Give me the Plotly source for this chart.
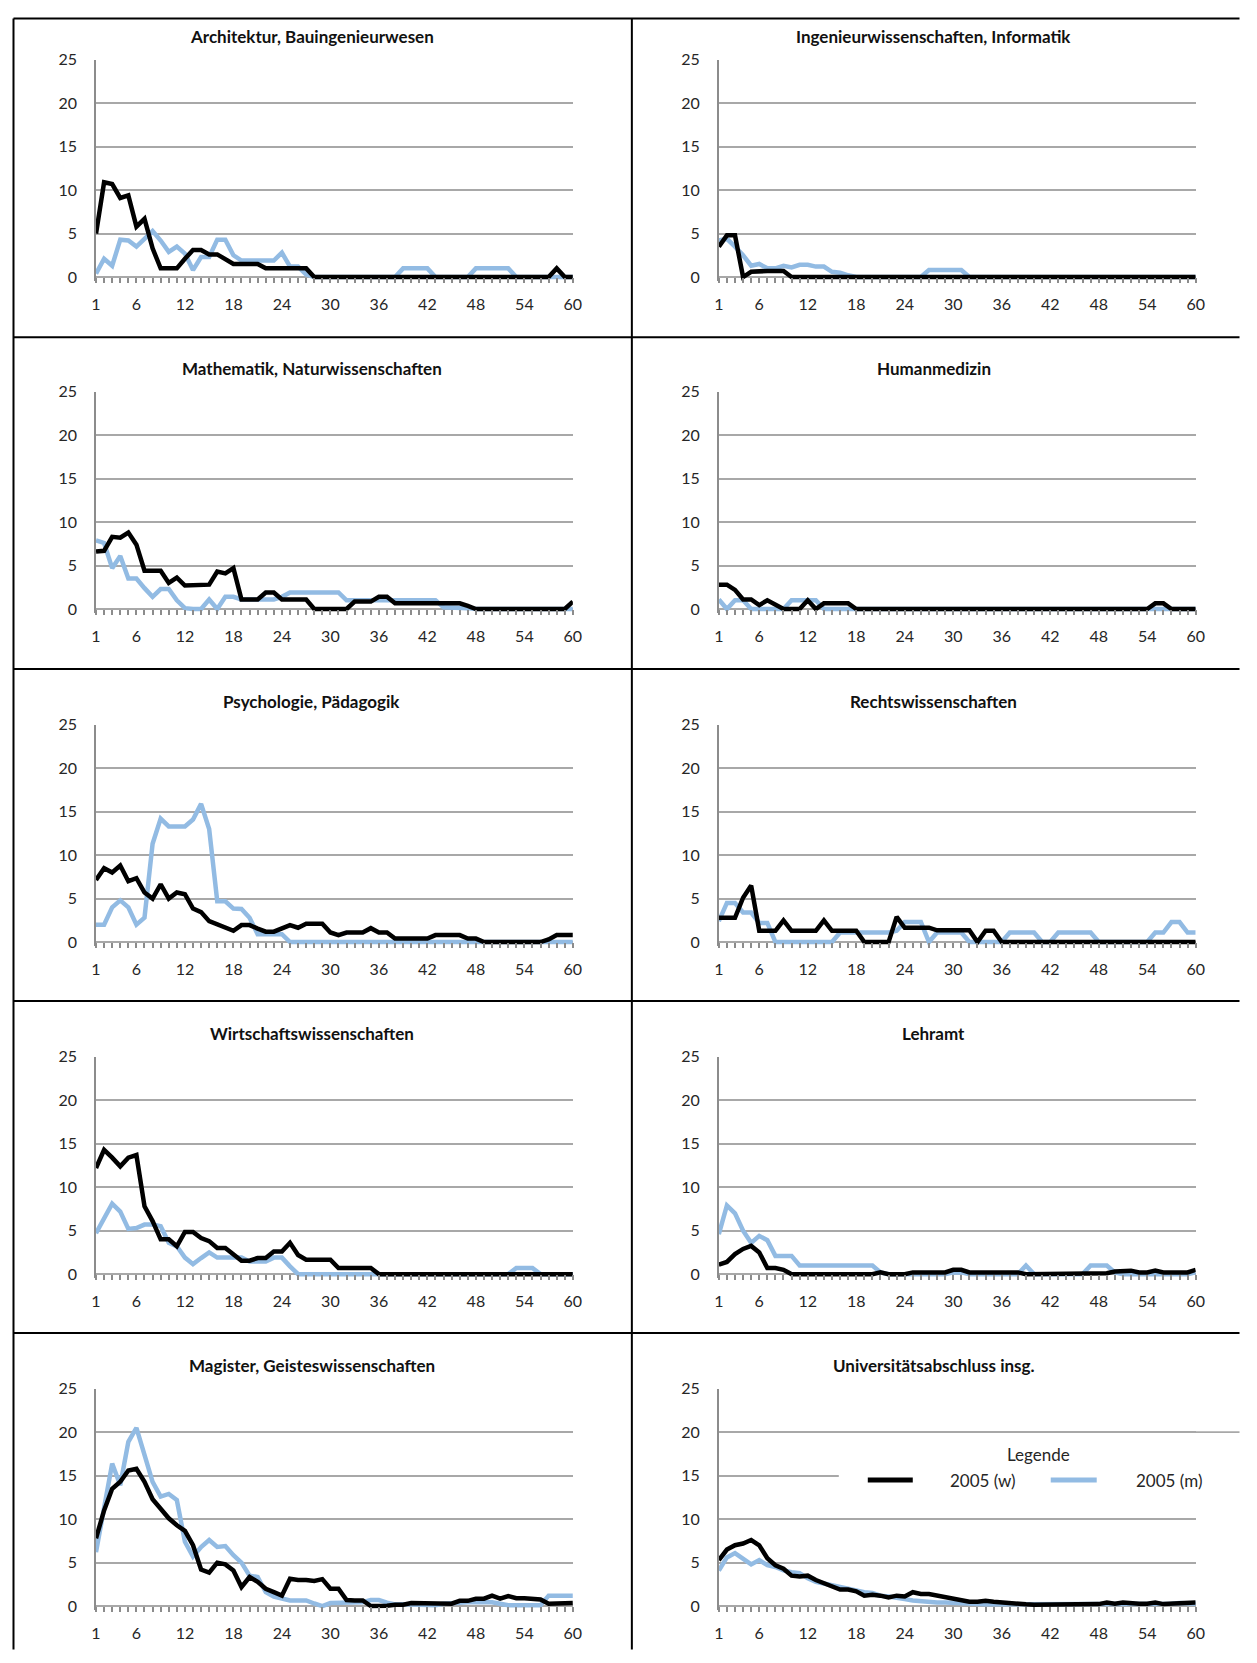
import plotly.graph_objects as go

# ---------------- data ----------------
x_vals = list(range(1, 61))
x_tick_vals = [1, 6, 12, 18, 24, 30, 36, 42, 48, 54, 60]
x_tick_text = [str(v) for v in x_tick_vals]
y_tick_vals = [0, 5, 10, 15, 20, 25]
series_names = ["2005 (w)", "2005 (m)"]

titles = [
    "Architektur, Bauingenieurwesen", "Ingenieurwissenschaften, Informatik",
    "Mathematik, Naturwissenschaften", "Humanmedizin",
    "Psychologie, Pädagogik", "Rechtswissenschaften",
    "Wirtschaftswissenschaften", "Lehramt",
    "Magister, Geisteswissenschaften", "Universitätsabschluss insg.",
]

arch_w = [5.0, 10.9, 10.7, 9.1, 9.4, 5.8, 6.7, 3.3, 1.0, 1.0,
          1.0, 2.1, 3.1, 3.1, 2.6, 2.6, 2.1, 1.5, 1.5, 1.5,
          1.5, 1.0, 1.0, 1.0, 1.0, 1.0, 1.0, 0, 0, 0,
          0, 0, 0, 0, 0, 0, 0, 0, 0, 0,
          0, 0, 0, 0, 0, 0, 0, 0, 0, 0,
          0, 0, 0, 0, 0, 0, 0, 1.0, 0, 0]
arch_m = [0.4, 2.1, 1.3, 4.3, 4.2, 3.5, 4.4, 5.3, 4.2, 2.9,
          3.5, 2.7, 0.8, 2.3, 2.3, 4.3, 4.3, 2.5, 1.9, 1.9,
          1.9, 1.9, 1.9, 2.8, 1.2, 1.2, 0.3, 0, 0, 0,
          0, 0, 0, 0, 0, 0, 0, 0, 1.0, 1.0,
          1.0, 1.0, 0, 0, 0, 0, 0, 1.0, 1.0, 1.0,
          1.0, 1.0, 0, 0, 0, 0, 0, 0, 0, 0]

ing_w = [3.5, 4.8, 4.8, 0, 0.6, 0.7, 0.7, 0.7, 0.7, 0,
         0, 0, 0, 0, 0, 0, 0, 0, 0, 0,
         0, 0, 0, 0, 0, 0, 0, 0, 0, 0,
         0, 0, 0, 0, 0, 0, 0, 0, 0, 0,
         0, 0, 0, 0, 0, 0, 0, 0, 0, 0,
         0, 0, 0, 0, 0, 0, 0, 0, 0, 0]
ing_m = [4.2, 4.4, 3.5, 2.5, 1.3, 1.5, 1.0, 1.0, 1.3, 1.1,
         1.4, 1.4, 1.2, 1.2, 0.6, 0.5, 0.2, 0, 0, 0,
         0, 0, 0.1, 0, 0, 0, 0.8, 0.8, 0.8, 0.8,
         0.8, 0, 0, 0, 0, 0, 0, 0, 0, 0,
         0, 0, 0, 0, 0, 0, 0, 0, 0, 0,
         0, 0, 0, 0, 0, 0, 0, 0, 0, 0]

math_w = [6.6, 6.7, 8.3, 8.2, 8.8, 7.4, 4.4, 4.4, 4.4, 3.0,
          3.6, 2.7, 2.7, 2.8, 2.8, 4.3, 4.1, 4.7, 1.1, 1.1,
          1.1, 1.9, 1.9, 1.1, 1.1, 1.1, 1.1, 0, 0, 0,
          0, 0, 0.85, 0.85, 0.85, 1.4, 1.4, 0.65, 0.65, 0.65,
          0.65, 0.65, 0.65, 0.65, 0.65, 0.65, 0.35, 0, 0, 0,
          0, 0, 0, 0, 0, 0, 0, 0, 0, 0.85]
math_m = [7.9, 7.6, 4.7, 6.1, 3.5, 3.5, 2.4, 1.4, 2.3, 2.3,
          1.0, 0.1, 0, 0, 1.1, 0, 1.4, 1.4, 1.1, 1.1,
          1.1, 1.1, 1.1, 1.4, 1.9, 1.9, 1.9, 1.9, 1.9, 1.9,
          1.9, 1.0, 1.0, 1.0, 1.0, 1.0, 1.0, 1.0, 1.0, 1.0,
          1.0, 1.0, 1.0, 0.2, 0.2, 0.2, 0.1, 0, 0, 0,
          0, 0, 0, 0, 0, 0, 0, 0, 0, 0]

med_w = [2.8, 2.8, 2.2, 1.1, 1.1, 0.45, 1.0, 0.45, 0, 0,
         0, 1.0, 0, 0.65, 0.65, 0.65, 0.65, 0, 0, 0,
         0, 0, 0, 0, 0, 0, 0, 0, 0, 0,
         0, 0, 0, 0, 0, 0, 0, 0, 0, 0,
         0, 0, 0, 0, 0, 0, 0, 0, 0, 0,
         0, 0, 0, 0, 0.65, 0.65, 0, 0, 0, 0]
med_m = [1.1, 0, 1.0, 1.0, 0, 0, 0, 0, 0, 1.0,
         1.0, 1.0, 1.0, 0, 0, 0, 0, 0, 0, 0,
         0, 0, 0, 0, 0, 0, 0, 0, 0, 0,
         0, 0, 0, 0, 0, 0, 0, 0, 0, 0,
         0, 0, 0, 0, 0, 0, 0, 0, 0, 0,
         0, 0, 0, 0, 0, 0, 0, 0, 0, 0]

psy_w = [7.15, 8.5, 8.0, 8.8, 7.0, 7.35, 5.7, 5.0, 6.65, 5.0,
         5.7, 5.5, 3.85, 3.45, 2.4, 2.0, 1.65, 1.3, 1.95, 1.95,
         1.55, 1.2, 1.2, 1.55, 1.95, 1.65, 2.1, 2.1, 2.1, 1.1,
         0.8, 1.1, 1.1, 1.1, 1.6, 1.1, 1.1, 0.4, 0.4, 0.4,
         0.4, 0.4, 0.8, 0.8, 0.8, 0.8, 0.4, 0.4, 0, 0,
         0, 0, 0, 0, 0, 0, 0.3, 0.8, 0.8, 0.8]
psy_m = [2.0, 2.0, 4.0, 4.8, 4.0, 2.0, 2.8, 11.3, 14.2, 13.3,
         13.3, 13.3, 14.1, 15.9, 13.0, 4.7, 4.7, 3.85, 3.8, 2.8,
         0.9, 0.9, 0.9, 0.9, 0, 0, 0, 0, 0, 0,
         0, 0, 0, 0, 0, 0, 0, 0, 0, 0,
         0, 0, 0, 0, 0, 0, 0, 0, 0, 0,
         0, 0, 0, 0, 0, 0, 0, 0, 0, 0]

law_w = [2.8, 2.8, 2.8, 5.1, 6.5, 1.3, 1.3, 1.3, 2.5, 1.3,
         1.3, 1.3, 1.3, 2.5, 1.3, 1.3, 1.3, 1.3, 0, 0,
         0, 0, 2.9, 1.65, 1.65, 1.65, 1.65, 1.35, 1.35, 1.35,
         1.35, 1.35, 0, 1.3, 1.3, 0, 0, 0, 0, 0,
         0, 0, 0, 0, 0, 0, 0, 0, 0, 0,
         0, 0, 0, 0, 0, 0, 0, 0, 0, 0]
law_m = [2.4, 4.5, 4.5, 3.4, 3.4, 2.2, 2.2, 0, 0, 0,
         0, 0, 0, 0, 0, 1.1, 1.1, 1.1, 1.1, 1.1,
         1.1, 1.1, 1.3, 2.3, 2.3, 2.3, 0, 1.1, 1.1, 1.1,
         1.1, 0, 0, 0, 0, 0, 1.1, 1.1, 1.1, 1.1,
         0, 0, 1.1, 1.1, 1.1, 1.1, 1.1, 0, 0, 0,
         0, 0, 0, 0, 1.1, 1.1, 2.3, 2.3, 1.1, 1.1]

econ_w = [12.2, 14.3, 13.4, 12.4, 13.4, 13.7, 7.8, 6.1, 4.0, 4.0,
          3.2, 4.85, 4.85, 4.15, 3.8, 3.0, 3.0, 2.2, 1.55, 1.55,
          1.85, 1.85, 2.6, 2.6, 3.6, 2.2, 1.65, 1.65, 1.65, 1.65,
          0.7, 0.7, 0.7, 0.7, 0.7, 0, 0, 0, 0, 0,
          0, 0, 0, 0, 0, 0, 0, 0, 0, 0,
          0, 0, 0, 0, 0, 0, 0, 0, 0, 0]
econ_m = [4.7, 6.5, 8.1, 7.2, 5.2, 5.3, 5.7, 5.7, 5.5, 3.6,
          3.2, 1.9, 1.15, 1.85, 2.5, 1.9, 1.9, 1.9, 1.9, 1.45,
          1.45, 1.45, 1.9, 1.9, 0.9, 0, 0, 0, 0, 0,
          0, 0, 0, 0, 0, 0, 0, 0, 0, 0,
          0, 0, 0, 0, 0, 0, 0, 0, 0, 0,
          0, 0, 0.7, 0.7, 0.7, 0, 0, 0, 0, 0]

teach_w = [1.1, 1.4, 2.3, 2.9, 3.25, 2.5, 0.7, 0.7, 0.5, 0,
           0, 0, 0, 0, 0, 0, 0, 0, 0, 0,
           0.2, 0, 0, 0, 0.2, 0.2, 0.2, 0.2, 0.2, 0.5,
           0.5, 0.2, 0.2, 0.2, 0.2, 0.2, 0.2, 0.2, 0, 0,
           0, 0, 0, 0, 0, 0, 0, 0, 0.1, 0.3,
           0.4, 0.4, 0.2, 0.2, 0.4, 0.2, 0.2, 0.2, 0.2, 0.5]
teach_m = [4.6, 7.9, 7.0, 5.0, 3.6, 4.4, 3.9, 2.1, 2.1, 2.1,
           1.0, 1.0, 1.0, 1.0, 1.0, 1.0, 1.0, 1.0, 1.0, 1.0,
           0.2, 0, 0, 0, 0, 0, 0, 0, 0, 0.2,
           0.2, 0, 0, 0, 0, 0, 0, 0, 1.0, 0,
           0, 0, 0, 0, 0, 0, 1.0, 1.0, 1.0, 0.2,
           0, 0, 0, 0, 0, 0, 0, 0, 0, 0.2]

mag_w = [7.8, 11.0, 13.5, 14.3, 15.6, 15.8, 14.3, 12.3, 11.2, 10.1,
         9.3, 8.65, 7.0, 4.2, 3.85, 5.0, 4.8, 4.1, 2.2, 3.35,
         2.8, 2.0, 1.6, 1.2, 3.15, 3.0, 3.0, 2.9, 3.1, 2.0,
         2.0, 0.7, 0.65, 0.65, 0, 0, 0.05, 0.15, 0.15, 0.35,
         0.35, 0.35, 0.35, 0.27, 0.27, 0.6, 0.6, 0.85, 0.85, 1.2,
         0.85, 1.15, 0.9, 0.9, 0.77, 0.77, 0.27, 0.27, 0.27, 0.35]
mag_m = [6.2, 11.0, 16.4, 13.9, 18.9, 20.5, 17.3, 14.3, 12.6, 12.9,
         12.2, 7.4, 5.7, 6.8, 7.6, 6.8, 6.9, 5.85, 5.0, 3.5,
         3.35, 1.6, 1.1, 0.85, 0.65, 0.65, 0.65, 0.3, 0, 0.35,
         0.35, 0.35, 0.35, 0.45, 0.7, 0.7, 0.4, 0.2, 0.2, 0.2,
         0.2, 0.2, 0.1, 0.27, 0.35, 0.45, 0.45, 0.45, 0.45, 0.45,
         0.27, 0.1, 0.1, 0.1, 0.1, 0.1, 1.2, 1.2, 1.2, 1.2]

univ_w = [5.3, 6.5, 7.0, 7.2, 7.6, 7.0, 5.5, 4.7, 4.3, 3.5,
          3.4, 3.5, 3.0, 2.6, 2.3, 1.9, 1.9, 1.7, 1.2, 1.3,
          1.2, 1.0, 1.2, 1.1, 1.6, 1.4, 1.4, 1.2, 1.1, 0.9,
          0.7, 0.5, 0.5, 0.6, 0.5, 0.4, 0.35, 0.27, 0.2, 0.15,
          0.15, 0.15, 0.15, 0.15, 0.2, 0.23, 0.23, 0.23, 0.4, 0.27,
          0.4, 0.27, 0.27, 0.27, 0.4, 0.23, 0.27, 0.27, 0.27, 0.4]
univ_m = [4.1, 5.6, 6.1, 5.5, 4.8, 5.3, 4.7, 4.5, 4.1, 3.9,
          3.8, 3.2, 2.8, 2.6, 2.4, 2.1, 2.0, 1.8, 1.6, 1.5,
          1.2, 1.1, 1.0, 0.8, 0.65, 0.55, 0.45, 0.42, 0.4, 0.35,
          0.27, 0.2, 0.2, 0.2, 0.2, 0.2, 0.2, 0.27, 0.15, 0.15,
          0.15, 0.15, 0.15, 0.15, 0.15, 0.15, 0.15, 0.15, 0.15, 0.15,
          0.15, 0.15, 0.15, 0.15, 0.15, 0.15, 0.27, 0.35, 0.27, 0.27]

panel_w = [arch_w, ing_w, math_w, med_w, psy_w, law_w, econ_w, teach_w, mag_w, univ_w]
panel_m = [arch_m, ing_m, math_m, med_m, psy_m, law_m, econ_m, teach_m, mag_m, univ_m]

# ---------------- layout geometry (target picture pixels) ----------------
PAGE_W, PAGE_H = 1257, 1663
BODY_MARGIN = 8
W, H = PAGE_W - 2 * BODY_MARGIN, PAGE_H - 2 * BODY_MARGIN
# empirical correction of the photographed placement
SX, SY = 0.989, 0.991
OX, OY = 4.1 + BODY_MARGIN, 10.0 + BODY_MARGIN

COL_X = [(95, 572), (718, 1195)]
ROW_TOP = [59.4, 391.4, 724.5, 1056.6, 1388.6]
PLOT_H = 217.5          # height of 0..25
Y_MIN = -0.45
PX_PER_UNIT = PLOT_H / 25.0
TITLE_X = [311, 933]
TITLE_Y = [36, 368, 701, 1033, 1365]

BLACK = "#000000"
BLUE = "#92BBE3"
GRID = "#A8A8A8"
AXIS = "#8C8C8C"
FONT = "Lato, 'Open Sans', sans-serif"
TXT = "#262626"


def px_x(x):
    f = x / SX - OX
    return min(max(f, 0.5), W - 0.5) / W


def px_y(y):
    f = y / SY - OY
    return 1 - min(max(f, 0.5), H - 0.5) / H


fig = go.Figure()
layout = {}
annotations = []
shapes = []

for i in range(10):
    row, col = divmod(i, 2)
    n = i + 1
    xa = "x" if n == 1 else f"x{n}"
    ya = "y" if n == 1 else f"y{n}"
    xkey = "xaxis" if n == 1 else f"xaxis{n}"
    ykey = "yaxis" if n == 1 else f"yaxis{n}"
    x0, x1 = COL_X[col]
    top = ROW_TOP[row]
    zero = top + PLOT_H
    bottom = zero - Y_MIN * PX_PER_UNIT

    fig.add_trace(go.Scatter(x=x_vals, y=panel_m[i], mode="lines", name=series_names[1],
                             line=dict(color=BLUE, width=4.5), xaxis=xa, yaxis=ya,
                             showlegend=False, hoverinfo="skip"))
    fig.add_trace(go.Scatter(x=x_vals, y=panel_w[i], mode="lines", name=series_names[0],
                             line=dict(color=BLACK, width=4.5), xaxis=xa, yaxis=ya,
                             showlegend=False, hoverinfo="skip"))

    layout[xkey] = dict(
        domain=[px_x(x0), px_x(x1)], range=[1, 60], anchor="free", position=px_y(zero),
        tickmode="array", tickvals=x_tick_vals, ticktext=x_tick_text,
        ticks="outside", ticklen=5, tickwidth=1.5, tickcolor=AXIS,
        minor=dict(ticks="outside", dtick=1, tick0=1, ticklen=5, tickwidth=1.5, tickcolor=AXIS),
        showgrid=False, zeroline=False, showline=False,
        tickfont=dict(family=FONT, size=16, color=TXT), ticklabelstandoff=8,
    )
    layout[ykey] = dict(
        domain=[px_y(bottom), px_y(top)], range=[Y_MIN, 25.02], anchor=xa,
        tickmode="array", tickvals=y_tick_vals, ticks="",
        showgrid=True, gridcolor=GRID, gridwidth=1.6, zeroline=False,
        showline=True, linecolor=AXIS, linewidth=1.6,
        tickfont=dict(family=FONT, size=16, color=TXT), ticklabelstandoff=14,
    )
    annotations.append(dict(
        text=f"<b>{titles[i]}</b>", xref="paper", yref="paper",
        x=px_x(TITLE_X[col]), y=px_y(TITLE_Y[row]), xanchor="center", yanchor="middle",
        showarrow=False, font=dict(family=FONT, size=17, color="#111111")))

# table borders
for yb in [5, 337, 669, 1001, 1333]:
    shapes.append(dict(type="line", xref="paper", yref="paper",
                       x0=px_x(7), x1=px_x(1257), y0=px_y(yb), y1=px_y(yb),
                       line=dict(color="#000000", width=2)))
for xb in [7, 631]:
    shapes.append(dict(type="line", xref="paper", yref="paper",
                       x0=px_x(xb), x1=px_x(xb), y0=px_y(5), y1=px_y(1663),
                       line=dict(color="#000000", width=2)))

# legend box inside last panel
shapes.append(dict(type="rect", xref="paper", yref="paper", layer="above",
                   x0=px_x(838), x1=px_x(1257), y0=px_y(1506), y1=px_y(1433.8),
                   fillcolor="white", line=dict(width=0)))
shapes.append(dict(type="line", xref="paper", yref="paper", layer="above",
                   x0=px_x(1195), x1=px_x(1257), y0=px_y(1432.1), y1=px_y(1432.1),
                   line=dict(color=GRID, width=1.6)))
shapes.append(dict(type="line", xref="paper", yref="paper", layer="above",
                   x0=px_x(867), x1=px_x(912), y0=px_y(1480), y1=px_y(1480),
                   line=dict(color=BLACK, width=5)))
shapes.append(dict(type="line", xref="paper", yref="paper", layer="above",
                   x0=px_x(1050), x1=px_x(1096), y0=px_y(1480), y1=px_y(1480),
                   line=dict(color=BLUE, width=5)))
annotations.append(dict(text="Legende", xref="paper", yref="paper",
                        x=px_x(1038), y=px_y(1454), xanchor="center", yanchor="middle",
                        showarrow=False, font=dict(family=FONT, size=17, color=TXT)))
annotations.append(dict(text=series_names[0], xref="paper", yref="paper",
                        x=px_x(982), y=px_y(1480), xanchor="center", yanchor="middle",
                        showarrow=False, font=dict(family=FONT, size=17, color=TXT)))
annotations.append(dict(text=series_names[1], xref="paper", yref="paper",
                        x=px_x(1168), y=px_y(1480), xanchor="center", yanchor="middle",
                        showarrow=False, font=dict(family=FONT, size=17, color=TXT)))

fig.update_layout(
    width=W, height=H, autosize=False,
    margin=dict(l=0, r=0, t=0, b=0),
    paper_bgcolor="white", plot_bgcolor="white",
    showlegend=False,
    annotations=annotations, shapes=shapes,
    **layout,
)

fig.write_html("out.html", config={"displayModeBar": False})
